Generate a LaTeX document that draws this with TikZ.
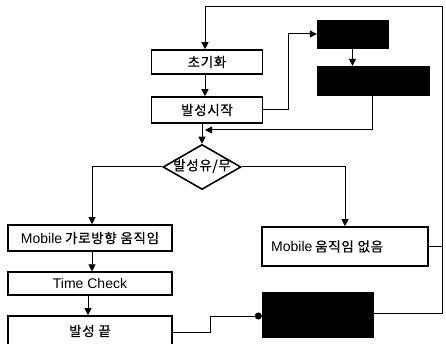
\documentclass[tikz,border=0pt]{standalone}
\usepackage{fontspec}
\setmainfont{Liberation Sans}
\newfontfamily\krfont{Noto Sans CJK KR}[LetterSpace=5,FakeBold=0.6]
\newcommand{\kr}[1]{{\krfont\fontsize{13.5}{15}\selectfont #1}}
\newcommand{\lt}[1]{{\fontsize{14}{16}\selectfont #1}}
\usetikzlibrary{shapes.geometric,arrows.meta}
\begin{document}
\begin{tikzpicture}[x=1pt,y=-1pt,
  box/.style={draw,line width=1.6pt,inner sep=0pt},
  thinbox/.style={draw,line width=1.1pt,inner sep=0pt},
  label/.style={inner sep=0pt,anchor=west},
  blackbox/.style={draw,fill=black,inner sep=0pt},
  decision/.style={draw,diamond,line width=1.6pt,inner sep=0pt,aspect=1.7},
  link/.style={line width=1pt},
  arr/.style={link,-{Triangle[length=7pt,width=7pt]}},
  dotarr/.style={link,-{Circle[length=7pt]}}]
\useasboundingbox (0,0) rectangle (446,344);
\fill[white] (0,0) rectangle (446,344);

% main column
\node[box,minimum width=111pt,minimum height=24pt] (init) at (207,62) {\kr{초기화}};
\node[box,minimum width=111pt,minimum height=26pt] (start) at (207,110) {\kr{발성시작}};
\node[decision,minimum width=78pt,minimum height=45pt] (dec) at (202,167) {};
\node[inner sep=0pt] (dectext) at (202,166) {\kr{발성유/무}};

% side black boxes
\node[blackbox,minimum width=71pt,minimum height=28pt] (b1) at (352.5,34) {};
\node[blackbox,minimum width=112pt,minimum height=29pt] (b2) at (373,80.5) {};

% left branch
\node[box,minimum width=164pt,minimum height=26pt] (move) at (90,238) {\lt{Mobile} \kr{가로방향 움직임}};
\node[thinbox,minimum width=164pt,minimum height=23pt] (time) at (90,283.5) {\lt{Time Check}};
\node[box,minimum width=164pt,minimum height=30pt] (end) at (90,331) {\kr{발성 끝}};

% right branch
\node[box,minimum width=166pt,minimum height=39pt] (still) at (345,246.5) {};
\node[label] (stilltext) at (271,246.5) {\lt{Mobile} \kr{움직임 없음}};
\node[blackbox,minimum width=111pt,minimum height=45pt] (b3) at (317.5,314.5) {};

\coordinate (join) at (205,130);

% connectors
\draw[arr] (init.south -| 205,0) -- (start.north -| 205,0);
\draw[arr] (start.east) -- (288,110) |- (b1.west);
\draw[arr] (b1.south) -- (b1.south |- b2.north);
\draw[arr] (b2.south -| 372,0) |- (join);
\draw[arr] (start.south -| 202,0) -- (dec.north);
\draw[arr] (dec.west) -| (move.north -| 92,0);
\draw[arr] (dec.east) -| (still.north);
\draw[arr] (move.south -| 92,0) -- (time.north -| 92,0);
\draw[arr] (time.south -| 88,0) -- (end.north -| 88,0);
\draw[dotarr] (end.east |- 0,332) -- (210,332) |- (b3.west |- 0,316);
\draw[link] (still.east) -- (442,246.5);
\draw[arr] (b3.east |- 0,313) -- (442,313) -- (442,7) -| (init.north -| 205,0);
\end{tikzpicture}
\end{document}
